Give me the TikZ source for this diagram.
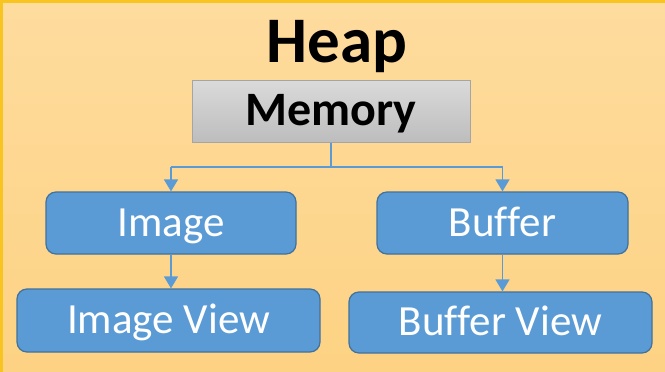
\documentclass[tikz,border=0pt]{standalone}
\usepackage{fontspec}
\setmainfont{Carlito}[Ligatures=CommonOff]
\usepackage{tikz}
\usetikzlibrary{arrows.meta}
\definecolor{heapbgtop}{HTML}{FEDC9E}
\definecolor{heapbgbot}{HTML}{FDD283}
\definecolor{heapframe}{HTML}{F8C520}
\definecolor{objblue}{HTML}{5B9BD5}
\definecolor{objedge}{HTML}{41719C}
\definecolor{memtop}{HTML}{DADADA}
\definecolor{membot}{HTML}{BDBDBD}
\definecolor{memedge}{HTML}{A5A5A5}
\tikzset{every edge/.style={draw=objblue, line width=1.4pt, -{Triangle[width=14pt,length=12pt]}}}
\tikzset{objbox/.style={draw=objedge, line width=1.2pt, fill=objblue, rounded corners=10pt,
  text=white, font=\fontsize{43}{50}\selectfont, inner sep=0pt, text height=32pt, text depth=6pt}}

\begin{document}
\begin{tikzpicture}[x=1pt,y=-1pt]
  \useasboundingbox (0,0) rectangle (665,372);
  \begin{scope}
    \clip (0,0) rectangle (665,372);
    \shade[top color=heapbgtop, bottom color=heapbgbot] (0,0) rectangle (665,372);
    \draw[heapframe, line width=3pt] (1.5,1.5) rectangle (700,400);
  \end{scope}

  \node[anchor=base, font=\fontsize{65}{72}\selectfont\bfseries] at (337, 63) (heap) {Heap};

  \node[draw=memedge, line width=1pt, top color=memtop, bottom color=membot,
        minimum width=278pt, minimum height=62pt, inner sep=0pt, text height=34pt, text depth=6pt,
        font=\fontsize{48}{54}\selectfont\bfseries] at (331, 111) (memory) {Memory};

  \node[objbox, minimum width=250pt, minimum height=62pt] at (171, 223)   (image)  {Image};
  \node[objbox, minimum width=251pt, minimum height=62pt] at (502.5, 223) (buffer) {Buffer};
  \node[objbox, minimum width=303pt, minimum height=63pt] at (168.5, 320.5) (imageview)  {Image View};
  \node[objbox, minimum width=303pt, minimum height=61pt] at (500.5, 322.5) (bufferview) {Buffer View};

  \coordinate (split)  at (331, 167);
  \coordinate (splitL) at (171, 167);
  \coordinate (splitR) at (502.5, 167);

  \draw[objblue, line width=1.4pt] (memory.south) -- (split);
  \draw[objblue, line width=1.4pt] (splitL) -- (splitR);
  \draw (splitL) edge (image.north);
  \draw (splitR) edge (buffer.north);
  \draw (image.south) edge (image.south |- imageview.north);
  \draw (buffer.south) edge (buffer.south |- bufferview.north);
\end{tikzpicture}
\end{document}
